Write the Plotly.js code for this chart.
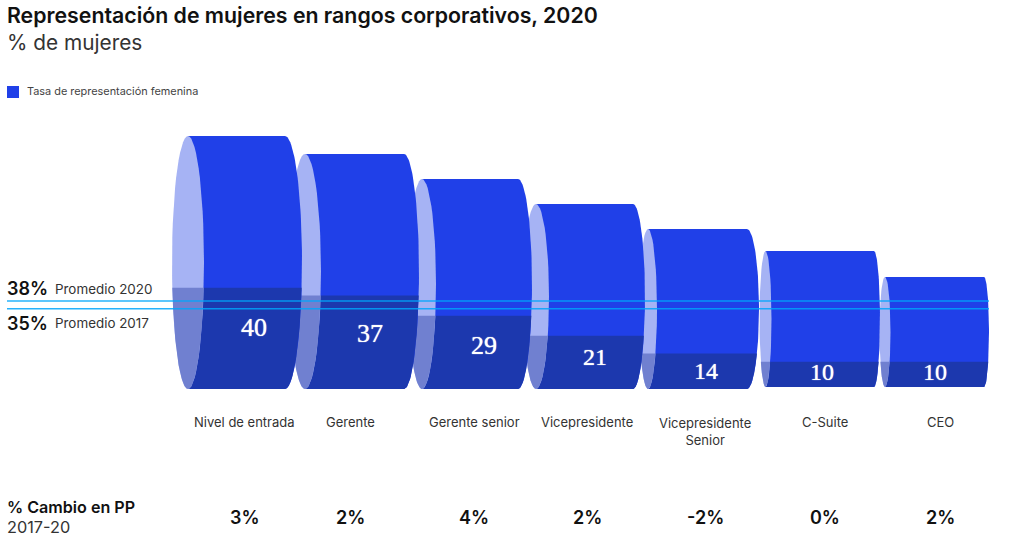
<!DOCTYPE html>
<html><head><meta charset="utf-8">
<script src="https://cdn.plot.ly/plotly-3.0.1.min.js"></script>
<style>html,body{margin:0;padding:0;background:#fff}#c{width:1024px;height:560px}</style>
</head><body><div id="c"></div>
<script>
// ---- data ----
const categories = ['Nivel de entrada','Gerente','Gerente senior','Vicepresidente','Vicepresidente<br>Senior','C-Suite','CEO'];
const womenShare = [40,37,29,21,14,10,10];
const pipelineHeight = [100,92.9,83,73.1,63.2,54.5,44.3];
const changeLabels = ['3%','2%','4%','2%','-2%','0%','2%'];
const averageLabels = ['38%','35%'];
const averageNames = ['Promedio 2020','Promedio 2017'];
const averageLevels = [34.8,31.7];

// ---- geometry of the drawing (not data) ----
const W=1024,H=560,Y0=389,PXU=2.53;
const cylBase=[0,0,0,0,0,0.8,0.8];
const capCenter=[188,305,422,536,648,765.5,885];
const capRx=[16,16,14,13,9,6,5.5];
const bodyEnd=[285,404,518,633,747,874,984];
const bulgeRx=[17,15,14,12,12,6,5];
const labelX=[254,370,484,595,706,822,935];
const labelLevel=[23.7,21.3,16.5,11.8,6.4,5.8,5.8];
const labelSize=[26,26,26,24,24,24,24];
const catX=[244.5,350,474,586.5,704.5,825,940];
const changeX=[245,350,474,587,705,825,940];
const BLUE='#2040e8',DARK='#1c38ae',LIGHT='#a6b3f4',LIGHTDARK='#7080d0';
const FONT='Inter, "Liberation Sans", Arial, sans-serif';

const traces=[];
// cylinder bodies through real bar traces
const bodyX=capCenter.map((c,i)=>(c+bodyEnd[i])/2);
const bodyW=capCenter.map((c,i)=>bodyEnd[i]-c);
traces.push({type:'bar',x:bodyX,width:bodyW,y:pipelineHeight.map((v,i)=>v-cylBase[i]),base:cylBase,
  marker:{color:BLUE,line:{width:0}},name:'Tasa de representación femenina',hoverinfo:'skip',showlegend:false});
traces.push({type:'bar',x:bodyX,width:bodyW,y:womenShare,base:cylBase,
  marker:{color:DARK,line:{width:0}},name:'Mujeres',hoverinfo:'y',showlegend:false});

function arc(cx,rxSigned,cy,ry,t0,t1){
  const xs=[],ys=[],n=60;
  for(let k=0;k<=n;k++){const t=t0+(t1-t0)*k/n;xs.push(cx+rxSigned*Math.cos(t));ys.push(cy+ry*Math.sin(t));}
  return [xs,ys];
}
function fill(xs,ys,color){
  traces.push({type:'scatter',mode:'lines',x:xs,y:ys,fill:'toself',fillcolor:color,line:{width:0,color:color},hoverinfo:'skip',showlegend:false});
}
for(let i=categories.length-1;i>=0;i--){
  const b=cylBase[i],top=pipelineHeight[i],cy=(b+top)/2,ry=(top-b)/2;
  const lvl=b+womenShare[i];
  const th=Math.asin(Math.max(-1,Math.min(1,(lvl-cy)/ry)));
  // left cap
  const full=arc(capCenter[i],capRx[i],cy,ry,0,2*Math.PI);
  fill(full[0],full[1],LIGHT);
  const a1=arc(capCenter[i],capRx[i],cy,ry,th,-Math.PI/2);
  const a2=arc(capCenter[i],-capRx[i],cy,ry,-Math.PI/2,th);
  fill(a1[0].concat(a2[0]),a1[1].concat(a2[1]),LIGHTDARK);
  // right bulge
  const up=arc(bodyEnd[i],bulgeRx[i],cy,ry,Math.PI/2,-Math.PI/2);
  fill(up[0].concat([bodyEnd[i]-1,bodyEnd[i]-1]),up[1].concat([b,top]),BLUE);
  const low=arc(bodyEnd[i],bulgeRx[i],cy,ry,th,-Math.PI/2);
  fill(low[0].concat([bodyEnd[i]-1,bodyEnd[i]-1]),low[1].concat([b,lvl]),DARK);
}
// average lines
averageLevels.forEach((v,i)=>{
  traces.push({type:'scatter',mode:'lines',x:[7,989],y:[v,v],line:{color:'rgba(0,165,250,0.85)',width:1.5},name:averageNames[i],hoverinfo:'name',showlegend:false});
});
// value labels
traces.push({type:'scatter',mode:'text',x:labelX,y:labelLevel,text:womenShare.map(String),
  textposition:'middle center',textfont:{family:'"Liberation Serif", serif',size:labelSize,color:'#ffffff',shadow:'0 0 1px #fff'},hoverinfo:'skip',showlegend:false});

const ann=[];
function t(text,x,y,o){
  o=o||{};
  ann.push({text:text,xref:'paper',yref:'paper',x:x/W,y:1-y/H,xanchor:o.anchor||'left',yanchor:'middle',showarrow:false,align:o.anchor||'left',
    font:{family:o.family||FONT,size:o.size||13,color:o.color||'#333',weight:o.weight||400}});
}
t('Representación de mujeres en rangos corporativos, 2020',5,15,{size:21.3,weight:600,color:'#111'});
t('% de mujeres',5,43,{size:20.8,color:'#333'});
t('Tasa de representación femenina',25,91.5,{size:10.9,color:'#444'});
t(averageLabels[0],5,288,{size:18,weight:600,color:'#111'});
t(averageNames[0],53,289,{size:13.4,color:'#333'});
t(averageLabels[1],5,323,{size:18,weight:600,color:'#111'});
t(averageNames[1],53,323,{size:13.4,color:'#333'});
categories.forEach((c,i)=>{
  const two=c.indexOf('<br>')>=0;
  t(c,catX[i],two?431:422,{size:13,anchor:'center',color:'#333'});
  t(changeLabels[i],changeX[i],517,{size:18,weight:600,anchor:'center',color:'#111'});
});
t('% Cambio en PP',5,507,{size:16.1,weight:600,color:'#111'});
t('2017-20',5,527,{size:16.3,color:'#333'});

const layout={
  width:W,height:H,margin:{l:0,r:0,t:0,b:0},paper_bgcolor:'#fff',plot_bgcolor:'#fff',
  barmode:'overlay',showlegend:false,
  xaxis:{range:[0,W],visible:false,fixedrange:true},
  yaxis:{range:[(Y0-H)/PXU,Y0/PXU],visible:false,fixedrange:true},
  shapes:[{type:'rect',xref:'paper',yref:'paper',x0:7/W,x1:19/W,y0:1-98/H,y1:1-86/H,fillcolor:BLUE,line:{width:0}}],
  annotations:ann
};
Plotly.newPlot('c',traces,layout,{displayModeBar:false});
</script></body></html>
